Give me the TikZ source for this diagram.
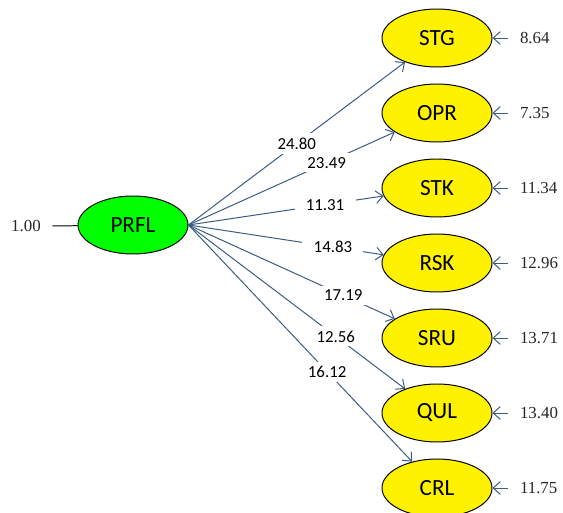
\documentclass[tikz,border=0pt]{standalone}
\usepackage{fontspec}
\setmainfont{Liberation Serif}
\newfontfamily\calibri{Carlito}
\usepackage{xcolor}
\usepackage{tikz}
\usetikzlibrary{positioning}
\usetikzlibrary{shapes.geometric}
\usetikzlibrary{arrows.meta}
\definecolor{pathblue}{HTML}{3B5B82}
\tikzset{edge/.style = {pathblue, line width=0.7pt, -{Straight Barb[length=5pt,width=9pt]}}}

\begin{document}
\begin{tikzpicture}[node distance=1.875cm,
    latent/.style={ellipse,draw,line width=0.7pt,minimum width=2.75cm,minimum height=1.45cm,inner sep=0pt,font=\calibri\fontsize{16.5}{18}\selectfont},
    weight/.style={fill=white,text=black,inner xsep=8pt,inner ysep=3pt,font=\calibri\fontsize{12}{14}\selectfont},
    error/.style={inner xsep=8pt,text=black!85,font=\fontsize{12}{14}\selectfont}]
                \useasboundingbox (0,0) rectangle (14.075,-12.825);
                \node[latent, fill=green] (prfl) at (3.325,-5.625) {PRFL};
                \node[latent, fill=yellow] (stg) at (10.925,-0.95) {STG};
                \node[latent, fill=yellow] (opr) [below of=stg] {OPR};
                \node[latent, fill=yellow] (stk) [below of=opr] {STK};
                \node[latent, fill=yellow] (rsk) [below of=stk] {RSK};
                \node[latent, fill=yellow] (sru) [below of=rsk] {SRU};
                \node[latent, fill=yellow] (qul) [below of=sru] {QUL};
                \node[latent, fill=yellow] (crl) [below of=qul] {CRL};

                % error terms
                \node[error] (e0) at (0.65,-5.65) {1.00};
                \node[error] (e1) [right=0.4cm of stg] {8.64};
                \node[error] (e2) [right=0.4cm of opr] {7.35};
                \node[error] (e3) [right=0.4cm of stk] {11.34};
                \node[error] (e4) [right=0.4cm of rsk] {12.96};
                \node[error] (e5) [right=0.4cm of sru] {13.71};
                \node[error] (e6) [right=0.4cm of qul] {13.40};
                \node[error] (e7) [right=0.4cm of crl] {11.75};

                \draw[line width=0.7pt] (e0.east) -- (prfl);
                \path (e1.west) edge[edge] (stg);
                \path (e2.west) edge[edge] (opr);
                \path (e3.west) edge[edge] (stk);
                \path (e4.west) edge[edge] (rsk);
                \path (e5.west) edge[edge] (sru);
                \path (e6.west) edge[edge] (qul);
                \path (e7.west) edge[edge] (crl);

                % loadings
                \path (prfl.east) edge[edge] node[weight, pos=0.5] {24.80} (stg);
                \path (prfl.east) edge[edge] node[weight, pos=0.67] {23.49} (opr);
                \path (prfl.east) edge[edge] node[weight, pos=0.7] {11.31} (stk);
                \path (prfl.east) edge[edge] node[weight, pos=0.74] {14.83} (rsk);
                \path (prfl.east) edge[edge] node[weight, pos=0.75] {17.19} (sru);
                \path (prfl.east) edge[edge] node[weight, pos=0.68] {12.56} (qul);
                \path (prfl.east) edge[edge] node[weight, pos=0.62] {16.12} (crl);
            \end{tikzpicture}
\end{document}
